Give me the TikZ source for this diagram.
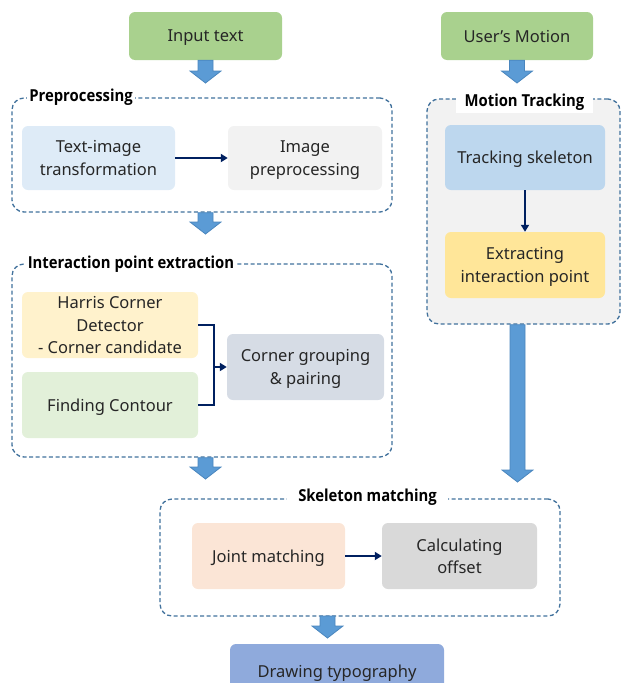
\documentclass[tikz,border=0pt]{standalone}
\usepackage{fontspec}
\usepackage{graphicx}
\setmainfont{Noto Sans}
\newfontfamily\headfont{Open Sans}
\usetikzlibrary{calc,arrows.meta}

\newcommand\narrowed[1]{\scalebox{0.9}[1]{#1}}

\definecolor{txt}{HTML}{262626}
\definecolor{greenbox}{HTML}{A9D18E}
\definecolor{paleblue}{HTML}{DEEBF7}
\definecolor{palegray}{HTML}{F2F2F2}
\definecolor{paleyellow}{HTML}{FFF2CC}
\definecolor{palegreen}{HTML}{E2F0D9}
\definecolor{slate}{HTML}{D6DCE5}
\definecolor{skyblue}{HTML}{BDD7EE}
\definecolor{gold}{HTML}{FFE699}
\definecolor{peach}{HTML}{FBE5D6}
\definecolor{midgray}{HTML}{D9D9D9}
\definecolor{cornflower}{HTML}{8FAADC}
\definecolor{arrowfill}{HTML}{5B9BD5}
\definecolor{arrowline}{HTML}{4A86BE}
\definecolor{frame}{HTML}{41719C}
\definecolor{navy}{HTML}{002060}

\tikzset{
  box/.style={rounded corners=6pt, inner sep=0pt, align=center, text=txt,
    text depth=0pt, font=\fontsize{16.5}{22.5}\selectfont},
  group/.style={draw=frame, line width=1.3pt, dash pattern=on 4pt off 2.6pt,
    rounded corners=12pt, inner sep=0pt},
  grouptitle/.style={fill=white, inner sep=2pt, text=black,
    font=\headfont\bfseries\fontsize{16.5}{20}\selectfont},
  link/.style={draw=navy, line width=2pt, -{Triangle[length=7pt,width=8pt]}},
  linkplain/.style={draw=navy, line width=2pt},
  fatarrow/.style={draw=arrowline, fill=arrowfill, line width=0.8pt, line join=miter,
    to path={let \p1=(\tikztostart), \p2=(\tikztotarget) in
      (\x1-7.5pt,\y1) -- (\x1-7.5pt,\y2+12pt) -- (\x1-15.5pt,\y2+12pt)
      -- (\x1,\y2) -- (\x1+15.5pt,\y2+12pt) -- (\x1+7.5pt,\y2+12pt)
      -- (\x1+7.5pt,\y1) -- cycle}},
}

\begin{document}
\begin{tikzpicture}[x=1pt, y=-1pt]
\useasboundingbox (0,0) rectangle (621,683);
\clip (0,0) rectangle (621,683);

% inputs
\node[box, fill=greenbox, minimum width=153pt, minimum height=48pt] (in) at (205.5,36) {Input text};
\node[box, fill=greenbox, minimum width=152pt, minimum height=48pt] (um) at (517,36) {User’s Motion};

% preprocessing group
\node[group, minimum width=380pt, minimum height=114pt] (pre) at (202,155) {};
\node[box, fill=paleblue, minimum width=153pt, minimum height=64pt] (ti) at (98.5,158) {Text-image\\transformation};
\node[box, fill=palegray, minimum width=154pt, minimum height=64pt] (ip) at (305,158) {Image\\preprocessing};
\node[grouptitle] (pret) at (81,97) {\narrowed{Preprocessing}};
\draw[link] (ti) -- (ip);

% interaction point extraction group
\node[group, minimum width=380pt, minimum height=193pt] (ipe) at (202,360.5) {};
\node[box, fill=paleyellow, minimum width=176pt, minimum height=66pt] (hc) at (110,325) {Harris Corner\\Detector\\- Corner candidate};
\node[box, fill=palegreen, minimum width=176pt, minimum height=66pt] (fc) at (110,405) {Finding Contour};
\node[box, fill=slate, minimum width=157pt, minimum height=66pt] (cg) at (305.5,367) {Corner grouping\\\& pairing};
\node[grouptitle] (ipet) at (131,264) {\narrowed{Interaction point extraction}};
\coordinate (jn) at (214,367);
\draw[linkplain] (hc.east) -| (jn);
\draw[linkplain] (fc.east) -| (jn);
\draw[link] (jn) -- (cg.west);

% motion tracking group
\node[group, fill=palegray, minimum width=193pt, minimum height=225pt] (mt) at (523.5,211.5) {};
\node[grouptitle, inner xsep=9pt, inner ysep=3pt] (mtt) at (524.5,102) {\narrowed{Motion Tracking}};
\node[box, fill=skyblue, minimum width=160pt, minimum height=65pt] (ts) at (525,157.5) {Tracking skeleton};
\node[box, fill=gold, minimum width=160pt, minimum height=66pt] (ex) at (525,265) {Extracting\\interaction point};
\draw[link] (ts) -- (ex);

% skeleton matching group
\node[group, minimum width=400pt, minimum height=117pt] (sm) at (360,557.5) {};
\node[grouptitle, inner xsep=11pt] (smt) at (367.5,497) {\narrowed{Skeleton matching}};
\node[box, fill=peach, minimum width=153pt, minimum height=66pt] (jm) at (268.5,556) {Joint matching};
\node[box, fill=midgray, minimum width=155pt, minimum height=66pt] (co) at (459.5,556) {Calculating\\offset};
\draw[link] (jm) -- (co);

% output
\node[box, fill=cornflower, minimum width=214pt, minimum height=56pt] (dt) at (337,672) {\raisebox{2pt}{Drawing typography}};

% block arrows between stages
\coordinate (t1) at (205.5,83);
\coordinate (t2) at (205.5,234);
\coordinate (t3) at (205.5,479);
\coordinate (t4) at (517,83);
\coordinate (t5) at (517.5,482);
\coordinate (t6) at (327.5,638);
\coordinate (s6) at (327.5,616);
\path[fatarrow] (in.south) to (t1);
\path[fatarrow] (in.south |- pre.south) to (t2);
\path[fatarrow] (in.south |- ipe.south) to (t3);
\path[fatarrow] (um.south) to (t4);
\path[fatarrow] (t5 |- mt.south) to (t5);
\path[fatarrow] (s6) to (t6);
\end{tikzpicture}
\end{document}
